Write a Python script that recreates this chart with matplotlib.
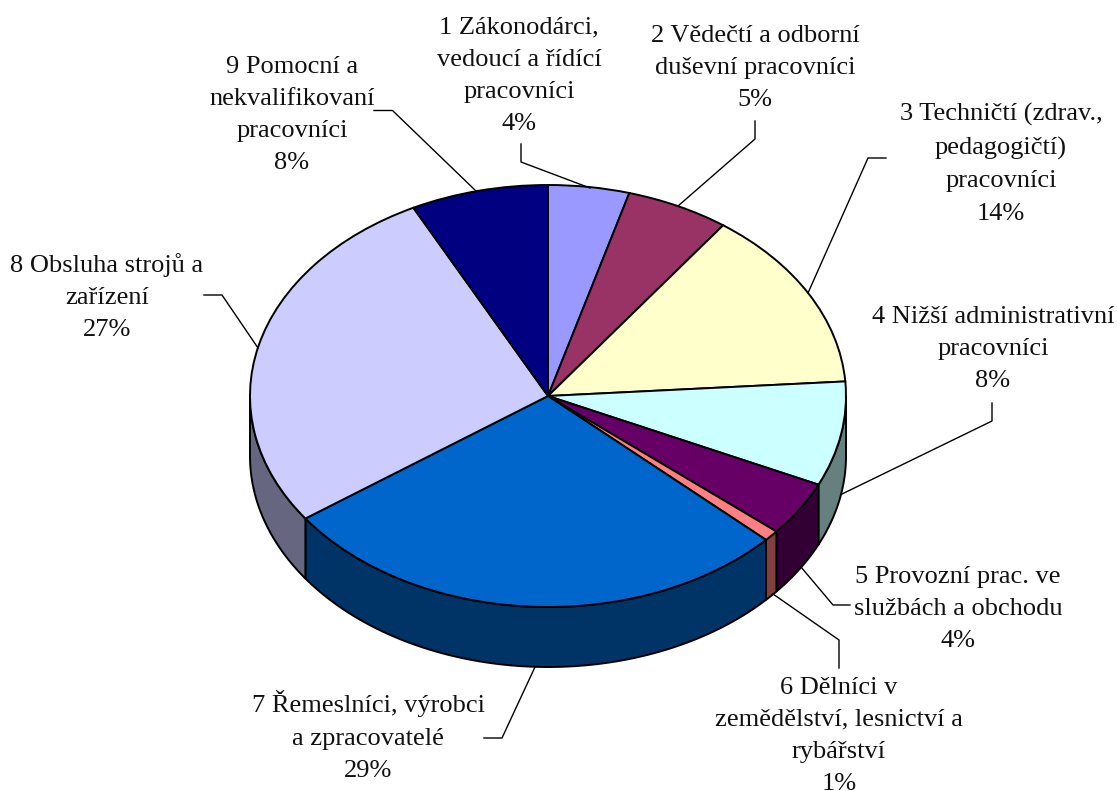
import numpy as np
import matplotlib
matplotlib.use("Agg")
import matplotlib.pyplot as plt

labels = [
    "1 Zákonodárci,\nvedoucí a řídící\npracovníci\n4%",
    "2 Vědečtí a odborní\nduševní pracovníci\n5%",
    "3 Techničtí (zdrav.,\npedagogičtí)\npracovníci\n14%",
    "4 Nižší administrativní\npracovníci\n8%",
    "5 Provozní prac. ve\nslužbách a obchodu\n4%",
    "6 Dělníci v\nzemědělství, lesnictví a\nrybářství\n1%",
    "7 Řemeslníci, výrobci\na zpracovatelé\n29%",
    "8 Obsluha strojů a\nzařízení\n27%",
    "9 Pomocní a\nnekvalifikovaní\npracovníci\n8%",
]
values = [4.4, 5.6, 13.9, 8.0, 4.2, 0.84, 28.2, 27.4, 7.46]
top_colors = ["#9999FF", "#993366", "#FFFFCC", "#CCFFFF", "#660066",
              "#FF8080", "#0066CC", "#CCCCFF", "#000080"]
side_colors = ["#666699", "#4D1A33", "#808066", "#668080", "#330033",
               "#804040", "#003366", "#666680", "#000040"]
label_pos = [(519, 76), (755, 68), (1001, 164), (993, 349), (958, 609),
             (839, 736), (368, 736), (107, 297), (292, 115)]
leaders = [
    [(521, 144), (521, 162), (590, 188)],
    [(755, 121), (755, 139), (678, 206)],
    [(886, 158), (868, 158), (808, 293)],
    [(992, 403), (992, 421), (842, 494)],
    [(850, 605), (833, 605), (801, 567)],
    [(839, 668), (839, 640), (773, 594)],
    [(484, 738), (502, 738), (535, 667)],
    [(204, 295), (222, 295), (258, 348)],
    [(374, 110.5), (392.5, 110.5), (476, 191)],
]

W, H = 1117, 791
CX, CY, RX, RY, DEPTH = 548, 396, 298, 211, 60

fig = plt.figure(figsize=(W / 100, H / 100), dpi=100, facecolor="white")
ax = fig.add_axes([0, 0, 1, 1])
ax.pie(values, colors=top_colors, startangle=90, counterclock=False, radius=1,
       wedgeprops=dict(edgecolor="black", linewidth=1.4, antialiased=True))
ax.set_aspect("auto")
ax.set_xlim(-CX / RX, (W - CX) / RX)
ax.set_ylim(-(H - CY) / RY, CY / RY)
ax.axis("off")

d = DEPTH / RY
edges = np.concatenate([[0], np.cumsum(values)]) / np.sum(values) * 2 * np.pi
for i, col in enumerate(side_colors):
    a0 = max(edges[i], np.pi / 2)
    a1 = min(edges[i + 1], 3 * np.pi / 2)
    if a1 <= a0:
        continue
    t = np.linspace(a0, a1, 120)
    x, y = np.sin(t), np.cos(t)
    ax.fill(np.r_[x, x[::-1]], np.r_[y, y[::-1] - d], facecolor=col,
            edgecolor="black", linewidth=1.4, joinstyle="round", zorder=0.5)

def px(p):
    return (p[0] - CX) / RX, (CY - p[1]) / RY

for pts in leaders:
    xy = np.array([px(p) for p in pts])
    ax.plot(xy[:, 0], xy[:, 1], color="black", lw=1.0, zorder=3, clip_on=False)

for txt, p in zip(labels, label_pos):
    ax.text(*px(p), txt, ha="center", va="center", multialignment="center",
            family="Liberation Serif", fontsize=19, linespacing=1.6,
            color="#111111", clip_on=False)

fig.savefig("out.png", dpi=100)
